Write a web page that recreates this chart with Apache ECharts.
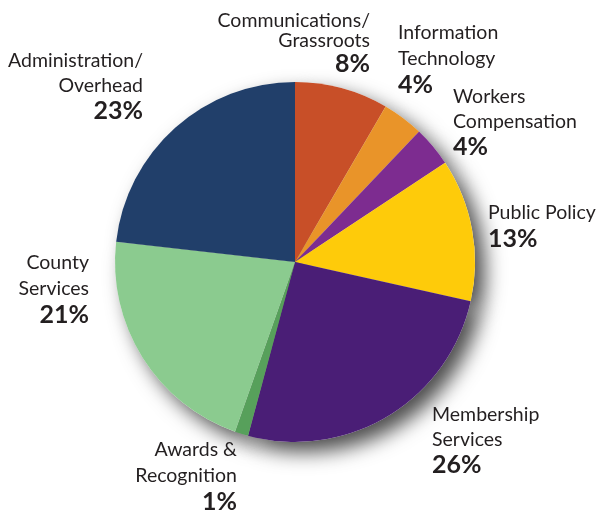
<!DOCTYPE html>
<html><head><meta charset="utf-8">
<script src="https://cdn.jsdelivr.net/npm/echarts@6/dist/echarts.min.js"></script>
<style>html,body{margin:0;padding:0;background:#fff}#c{width:597px;height:513px}</style>
</head><body><div id="c"></div>
<script>
const categories = ["Communications/\nGrassroots","Information\nTechnology","Workers\nCompensation","Public Policy","Membership\nServices","Awards &\nRecognition","County\nServices","Administration/\nOverhead"];
const values = [8.4,3.7,3.6,12.8,25.7,1.2,21.4,23.2];
const colors = ["#C84F28","#E99429","#7D2C90","#FECB0A","#4A1E76","#57A05B","#8BCB8F","#213F6A"];
// label anchor layout: x, y of top, alignment, name line height
const labelLayoutPos = [
  [370, 11, 'right', 20],
  [398, 20, 'left', 26],
  [453, 84, 'left', 25],
  [488, 200, 'left', 26],
  [432, 402, 'left', 25],
  [237, 437, 'right', 26],
  [89, 250, 'right', 26],
  [143, 48, 'right', 25]
];
const chart = echarts.init(document.getElementById('c'));
const pStyle = {fontFamily:'Lato', fontSize:25, fontWeight:'bold', color:'#231F20', lineHeight:26};
const data = categories.map((c,i)=>({
  name:c, value:values[i], itemStyle:{color:colors[i]},
  label:{rich:{n:{fontFamily:'Lato', fontSize:19.5, color:'#231F20', lineHeight:labelLayoutPos[i][3]}, p:pStyle}}
}));
chart.setOption({
  animation:false,
  series:[
    {type:'pie', silent:true, center:[295,262], radius:[0,180], z:1,
     data: values.map(v=>({value:v})),
     label:{show:false}, labelLine:{show:false},
     itemStyle:{color:'#fff', shadowBlur:20, shadowColor:'rgba(0,0,0,0.7)', shadowOffsetX:10, shadowOffsetY:10}},
    {type:'pie', center:[295,262], radius:[0,180], z:2,
     data: data,
     itemStyle:{borderWidth:0},
     labelLine:{show:false},
     label:{show:true, position:'outside', overflow:'none',
       formatter: p => '{n|' + p.name.split('\n').join('}\n{n|') + '}\n{p|' + Math.round(p.value) + '%}'},
     labelLayout: function(params){
       const l = labelLayoutPos[params.dataIndex];
       return {x:l[0], y:l[1], align:l[2], verticalAlign:'top'};
     }}
  ]
});
</script></body></html>
